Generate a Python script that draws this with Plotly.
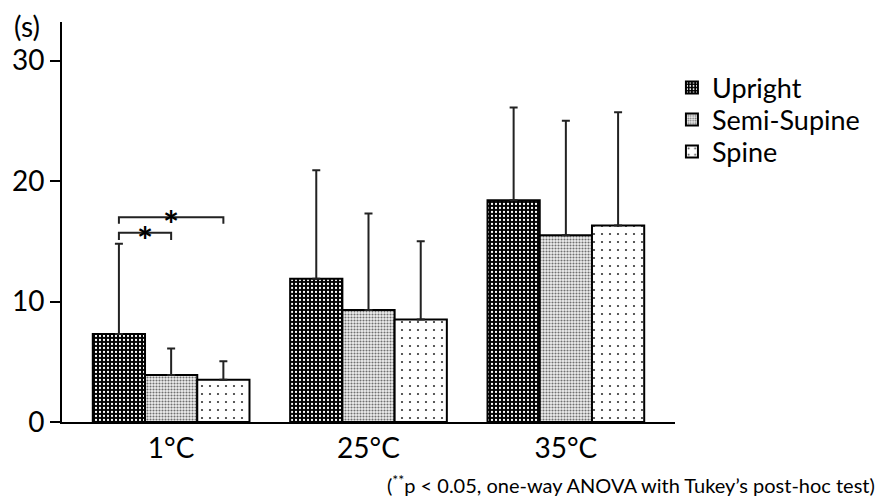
import plotly.graph_objects as go

categories = ["1°C", "25°C", "35°C"]
series_names = ["Upright", "Semi-Supine", "Spine"]
upright_mean = [7.3, 11.9, 18.4]
upright_sd = [7.5, 9.0, 7.7]
semi_mean = [3.9, 9.3, 15.5]
semi_sd = [2.2, 8.0, 9.5]
spine_mean = [3.5, 8.5, 16.3]
spine_sd = [1.55, 6.5, 9.4]
y_ticks = [0, 10, 20, 30]

FONT = "Lato, 'Open Sans', sans-serif"
x = list(range(len(categories)))
bargap = 0.206
bw = (1 - bargap) / 3

patterns = [
    dict(shape=".", fgcolor="white", bgcolor="black", size=4, solidity=0.25, fillmode="replace"),
    dict(shape=".", fgcolor="#707070", bgcolor="#f0f0f0", size=3, solidity=0.4, fillmode="replace"),
    dict(shape=".", fgcolor="#333333", bgcolor="white", size=8, solidity=0.06, fillmode="replace"),
]
means = [upright_mean, semi_mean, spine_mean]
sds = [upright_sd, semi_sd, spine_sd]
legend_ids = ["legend", "legend2", "legend3"]
legend_y = [0.835, 0.755, 0.675]

fig = go.Figure()
for name, m, s, p, lid in zip(series_names, means, sds, patterns, legend_ids):
    fig.add_trace(go.Bar(
        x=x, y=m, name=name, legend=lid, showlegend=True,
        marker=dict(color=p["bgcolor"], pattern=p, line=dict(color="black", width=2)),
        error_y=dict(type="data", symmetric=False, array=s, arrayminus=[0] * len(s),
                     color="#222222", thickness=2, width=4),
    ))

# significance brackets at 1°C
up_x = x[0] - bw
semi_x = x[0]
spine_x = x[0] + bw
brackets = [(up_x, semi_x, 15.7, 15.1), (up_x, spine_x, 17.0, 16.45)]
for x0, x1, yt, yb in brackets:
    fig.add_shape(type="path", xref="x", yref="y",
                  path=f"M {x0} {yb} L {x0} {yt} L {x1} {yt} L {x1} {yb}",
                  line=dict(color="#222222", width=2))
    fig.add_annotation(x=(x0 + x1) / 2, y=yt, text="<b>*</b>", showarrow=False,
                       font=dict(family=FONT, size=38, color="black"),
                       xref="x", yref="y", yanchor="middle", yshift=-7)

fig.add_annotation(xref="paper", yref="paper", x=-0.057, y=1.0, text="(s)",
                   showarrow=False, xanchor="center", yanchor="middle", yshift=-4,
                   font=dict(family=FONT, size=28, color="black"))
fig.add_annotation(xref="paper", yref="paper", x=0.527, y=-0.155,
                   text="(<sup>**</sup>p &lt; 0.05, one-way ANOVA with Tukey’s post-hoc test)",
                   showarrow=False, xanchor="left", yanchor="middle",
                   font=dict(family=FONT, size=20, color="black"))

legend_layout = {}
for lid, ly in zip(legend_ids, legend_y):
    legend_layout[lid] = dict(x=0.995, y=ly, xanchor="left", yanchor="middle",
                              font=dict(family=FONT, size=27, color="black"),
                              bgcolor="rgba(0,0,0,0)", itemsizing="constant")

fig.update_layout(
    width=884, height=502,
    showlegend=True,
    margin=dict(l=57, r=209, t=22, b=80),
    plot_bgcolor="white", paper_bgcolor="white",
    barmode="group", bargap=bargap, bargroupgap=0,
    font=dict(family=FONT, color="black"),
    xaxis=dict(range=[-0.553, 2.553], tickvals=x, ticktext=categories,
               showline=True, linecolor="black", linewidth=2, ticks="",
               showgrid=False, zeroline=False,
               tickfont=dict(family=FONT, size=28, color="black")),
    yaxis=dict(range=[0, 33.2], tickvals=y_ticks, showline=True, linecolor="black",
               linewidth=2, ticks="outside", ticklen=10, tickwidth=2, tickcolor="black",
               showgrid=False, zeroline=False,
               tickfont=dict(family=FONT, size=28, color="black")),
    **legend_layout,
)

fig.write_html("out.html", config={"displayModeBar": False},
               post_script="document.body.style.margin='0';")
